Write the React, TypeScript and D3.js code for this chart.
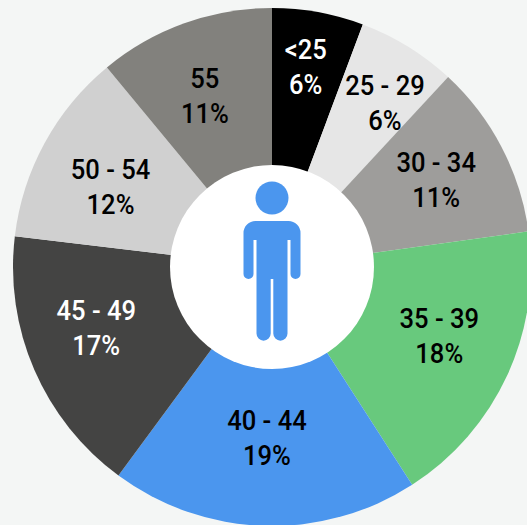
import React from "react";
import * as d3 from "d3";

const ageGroups = ["<25", "25 - 29", "30 - 34", "35 - 39", "40 - 44", "45 - 49", "50 - 54", "55"];
// the labels show them rounded
const shares = [5.7, 6.2, 10.9, 18.1, 19.2, 16.8, 12.1, 11];
const sliceColors = ["#000000", "#e6e6e6", "#9e9d9b", "#68c97d", "#4b96ee", "#444443", "#d0d0d0", "#82817d"];
const labelColors = ["#ffffff", "#000000", "#000000", "#000000", "#000000", "#ffffff", "#000000", "#000000"];

// hand placed: distance from the centre and angle nudge (degrees) for each label
const labelRadius = [203, 199, 186, 181, 171, 186, 180, 184];
const labelNudge = [-0.7, 2.9, -0.5, -2.2, -0.1, 4.3, -2.4, -1.6];

const width = 527;
const height = 525;
const cx = 272;
const cy = 267;
const outerRadius = 259;
const innerRadius = 102;

const personPath =
  "M-16.5,-46 H16.5 A12,12 0 0 1 28.5,-34 V7 A5,5 0 0 1 18.5,7 V-27 H15.5 V66.6 " +
  "A7.1,7.1 0 0 1 1.3,66.6 V12 H-1.3 V66.6 A7.1,7.1 0 0 1 -15.5,66.6 V-27 H-18.5 V7 " +
  "A5,5 0 0 1 -28.5,7 V-34 A12,12 0 0 1 -16.5,-46 Z";

export default function App() {
  const pie = d3.pie<number>().sort(null)(shares);
  const arc = d3.arc<d3.PieArcDatum<number>>().innerRadius(0).outerRadius(outerRadius);

  return (
    <svg
      width={width}
      height={height}
      style={{ position: "fixed", left: 0, top: 0, display: "block", background: "#f4f6f5" }}
    >
      <g transform={`translate(${cx},${cy})`}>
        {pie.map((d, i) => (
          <path key={ageGroups[i]} d={arc(d) as string} fill={sliceColors[i]} />
        ))}
        <circle r={innerRadius} fill="#ffffff" />
        <circle cy={-69} r={16.5} fill="#4b96ee" />
        <path d={personPath} fill="#4b96ee" />
        {pie.map((d, i) => {
          const mid = (d.startAngle + d.endAngle) / 2 + (labelNudge[i] * Math.PI) / 180;
          const [x, y] = d3.pointRadial(mid, labelRadius[i]);
          return (
            <text
              key={ageGroups[i]}
              transform={`translate(${x},${y}) scale(0.93,1)`}
              textAnchor="middle"
              fill={labelColors[i]}
              fontFamily="Roboto, sans-serif"
              fontWeight={500}
              fontSize={27.5}
            >
              <tspan x={0} dy={-8}>{ageGroups[i]}</tspan>
              <tspan x={0} dy={35}>{Math.round(shares[i])}%</tspan>
            </text>
          );
        })}
      </g>
    </svg>
  );
}
